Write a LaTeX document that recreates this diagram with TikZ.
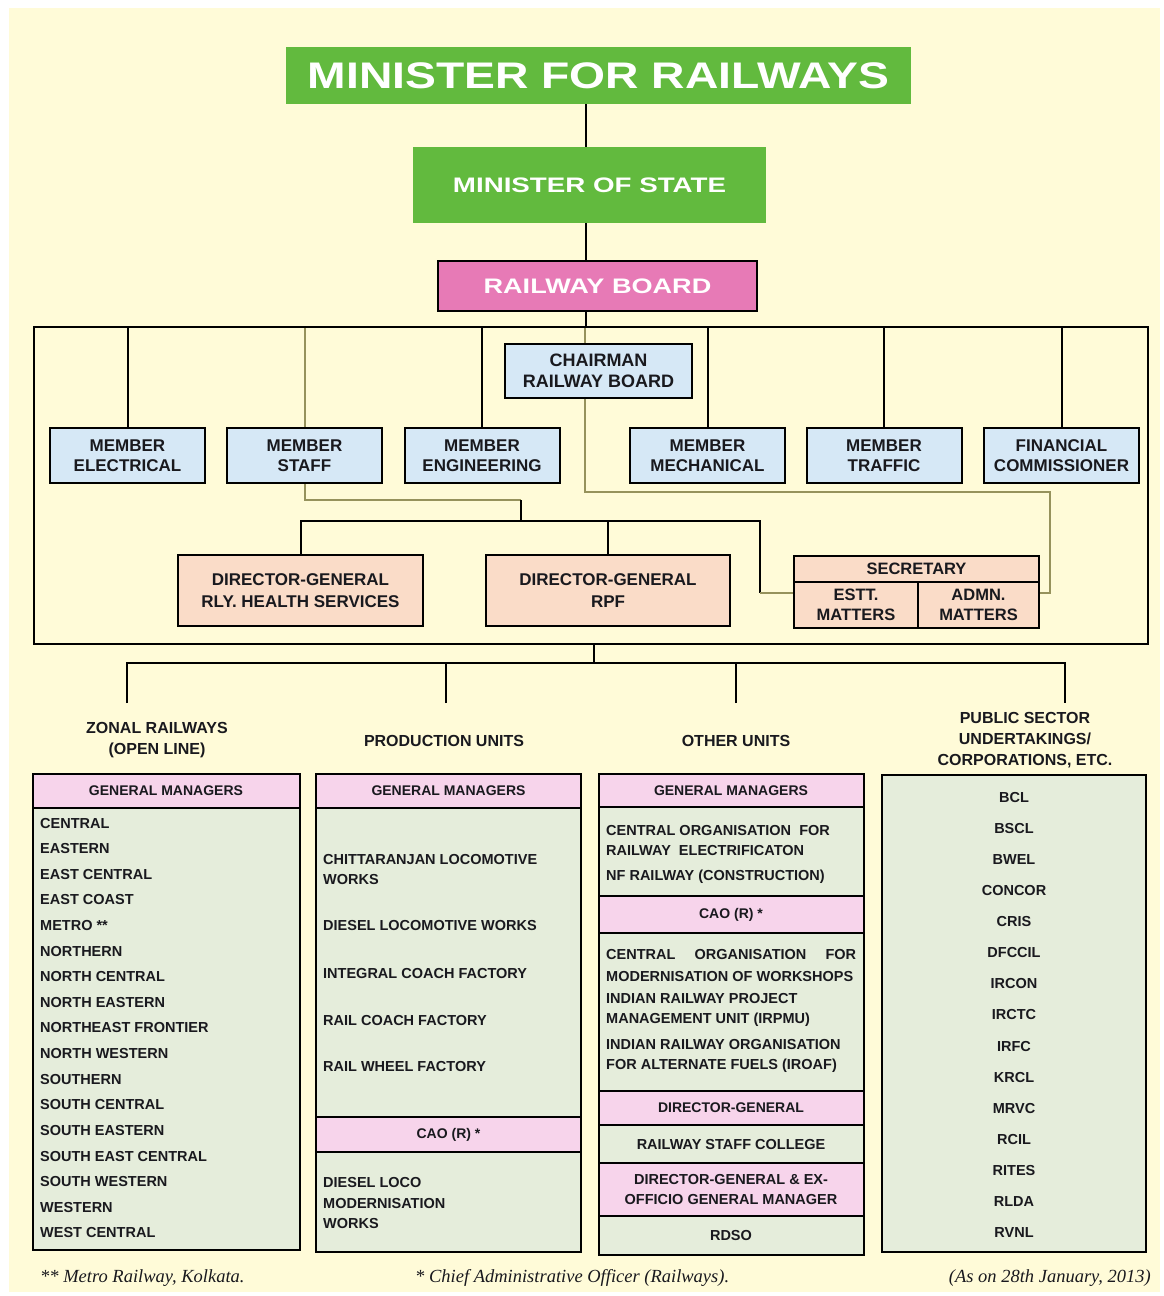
\documentclass[tikz,border=0pt]{standalone}
\usepackage{fontspec}
\usepackage{graphicx}
\setmainfont{Liberation Sans}
\newfontfamily\footfont{Liberation Serif}
\usetikzlibrary{calc}
\pgfdeclarelayer{bg}
\pgfdeclarelayer{lines}
\pgfsetlayers{bg,lines,main}
\definecolor{cream}{RGB}{255,251,216}
\definecolor{mgreen}{RGB}{98,186,62}
\definecolor{rbpink}{RGB}{231,122,182}
\definecolor{lblue}{RGB}{214,232,246}
\definecolor{peach}{RGB}{250,220,200}
\definecolor{hpink}{RGB}{247,212,235}
\definecolor{lgreen}{RGB}{229,237,219}
\definecolor{oliveline}{RGB}{150,146,92}
\definecolor{txt}{RGB}{25,25,30}
\begin{document}
\begin{tikzpicture}[x=1pt,y=-1pt,
  box/.style={draw=black, line width=2pt, inner sep=0pt, align=center, text=txt},
  greenbox/.style={fill=mgreen, inner sep=0pt, text=white, font=\bfseries},
  member/.style={box, fill=lblue, minimum width=155pt, minimum height=55pt, font=\bfseries\fontsize{17}{20}\selectfont},
  dgbox/.style={box, fill=peach, font=\bfseries\fontsize{17}{22}\selectfont},
  hdr/.style={box, fill=hpink, font=\bfseries\fontsize{14}{19}\selectfont},
  lst/.style={box, fill=lgreen},
  item/.style={anchor=west, inner sep=0pt, align=left, text=txt, font=\bfseries\fontsize{14.5}{20}\selectfont},
  citem/.style={anchor=center, inner sep=0pt, align=center, text=txt, font=\bfseries\fontsize{14.5}{19}\selectfont},
  colhead/.style={align=center, inner sep=0pt, text=txt, font=\bfseries\fontsize{16}{21}\selectfont},
  conn/.style={line width=2pt, black},
  oconn/.style={line width=2pt, oliveline},
  foot/.style={inner sep=0pt, text=txt, font=\footfont\itshape\fontsize{18.5}{20}\selectfont}]
\useasboundingbox (0,0) rectangle (1163,1296);
\begin{pgfonlayer}{bg}
\fill[white] (0,0) rectangle (1163,1296);
\fill[cream] (9,8) rectangle (1160,1292);
\end{pgfonlayer}

% top hierarchy
\node[greenbox, minimum width=625pt, minimum height=57pt] (mfr) at (598.5,75.5)
  {\fontsize{37}{40}\selectfont\scalebox{1.25}[1]{MINISTER FOR RAILWAYS}};
\node[greenbox, minimum width=353pt, minimum height=76pt] (mos) at (589.5,185)
  {\fontsize{21}{24}\selectfont\scalebox{1.32}[1]{MINISTER OF STATE}};
\node[box, fill=rbpink, text=white, minimum width=319pt, minimum height=50pt, font=\bfseries] (rb) at (597.5,286)
  {\fontsize{21}{24}\selectfont\scalebox{1.29}[1]{RAILWAY BOARD}};
\coordinate (spine) at (586,0);

% board frame
\node[draw=black, line width=2pt, inner sep=0pt, minimum width=1114pt, minimum height=317pt] (big) at (591,485.5) {};

% members
\node[member] (mel) at (127.5,455.5) {MEMBER\\ELECTRICAL};
\node[member] (mst) at (304.5,455.5) {MEMBER\\STAFF};
\node[member] (men) at (482,455.5) {MEMBER\\ENGINEERING};
\node[member] (mme) at (707.5,455.5) {MEMBER\\MECHANICAL};
\node[member] (mtr) at (884,455.5) {MEMBER\\TRAFFIC};
\node[member] (mfc) at (1061.5,455.5) {FINANCIAL\\COMMISSIONER};
\node[box, fill=lblue, minimum width=187pt, minimum height=54pt, font=\bfseries\fontsize{18}{21}\selectfont] (chair) at (598.5,371) {CHAIRMAN\\RAILWAY BOARD};
\coordinate (chx) at (585,0);

% directors general and secretary
\node[dgbox, minimum width=245pt, minimum height=71pt] (dgh) at (300.5,590.5) {DIRECTOR-GENERAL\\RLY. HEALTH SERVICES};
\node[dgbox, minimum width=244pt, minimum height=71pt] (dgr) at (608,590.5) {DIRECTOR-GENERAL\\RPF};
\node[dgbox, minimum width=245pt, minimum height=27pt, font=\bfseries\fontsize{16.5}{20}\selectfont] (sech) at (916.5,569) {SECRETARY};
\node[dgbox, minimum width=124pt, minimum height=46pt, font=\bfseries\fontsize{16.5}{20}\selectfont] (sece) at (856,605) {ESTT.\\MATTERS};
\node[dgbox, minimum width=121pt, minimum height=46pt, font=\bfseries\fontsize{16.5}{20}\selectfont] (seca) at (978.5,605) {ADMN.\\MATTERS};
\coordinate (sj) at (521,500);
\coordinate (dgj) at (521,521);
\coordinate (dgbr) at (760,521);
\coordinate (secl) at (760,593);
\coordinate (secbend) at (1050,593);

% lower tier headings
\coordinate (bus) at (594,663);
\coordinate (t1) at (127,703);
\coordinate (t2) at (446,703);
\coordinate (t3) at (736,703);
\coordinate (t4) at (1065,703);
\node[colhead] (h1) at (157,740) {ZONAL RAILWAYS\\(OPEN LINE)};
\node[colhead] (h2) at (444,741) {PRODUCTION UNITS};
\node[colhead] (h3) at (736,741) {OTHER UNITS};
\node[colhead] (h4) at (1025,740) {PUBLIC SECTOR\\UNDERTAKINGS/\\CORPORATIONS, ETC.};

\begin{pgfonlayer}{lines}
\draw[conn] (mfr.south -| spine) -- (mos.north -| spine);
\draw[conn] (mos.south -| spine) -- (rb.north -| spine);
\draw[conn] (rb.south -| spine) -- (spine |- big.north);
\foreach \m in {mel,men,mme,mtr,mfc}
  \draw[conn] (\m.north) -- (\m.north |- big.north);
\draw[oconn] (mst.north) -- (mst.north |- big.north);
\draw[oconn] (chx |- big.north) -- ++(0,166) -| (secbend) -- (secbend -| seca.east);
\draw[oconn] (mst.south) -- (mst.south |- sj) -- (sj);
\draw[conn] (sj) -- (dgj);
\draw[conn] (dgh.north) -- (dgh.north |- dgj) -- (dgbr) -- (secl);
\draw[conn] (dgr.north) -- (dgr.north |- dgj);
\draw[oconn] (secl) -- (secl -| sece.west);
\draw[conn] (bus |- big.south) -- (bus);
\draw[conn] (t1) |- (bus) -| (t4);
\draw[conn] (t2) -- (t2 |- bus);
\draw[conn] (t3) -- (t3 |- bus);
\end{pgfonlayer}

% column 1: zonal railways
\node[hdr, minimum width=267pt, minimum height=34pt] (c1h) at (166,791) {GENERAL MANAGERS};
\node[lst, minimum width=267pt, minimum height=442pt] (c1b) at (166,1029) {};
\foreach \t [count=\i] in {CENTRAL,EASTERN,EAST CENTRAL,EAST COAST,METRO **,NORTHERN,NORTH CENTRAL,NORTH EASTERN,NORTHEAST FRONTIER,NORTH WESTERN,SOUTHERN,SOUTH CENTRAL,SOUTH EASTERN,SOUTH EAST CENTRAL,SOUTH WESTERN,WESTERN,WEST CENTRAL}
  \node[item] (z\i) at (40,{823+(\i-1)*25.62}) {\t};

% column 2: production units
\node[hdr, minimum width=265pt, minimum height=34pt] (c2h) at (448.5,791) {GENERAL MANAGERS};
\node[lst, minimum width=265pt, minimum height=309pt] (c2b) at (448.5,962.5) {};
\node[hdr, minimum width=265pt, minimum height=35pt] (c2c) at (448.5,1134.5) {CAO (R) *};
\node[lst, minimum width=265pt, minimum height=100pt] (c2d) at (448.5,1202) {};
\node[item, font=\bfseries\fontsize{14.5}{19.5}\selectfont] (pu1) at (323,869.5) {CHITTARANJAN LOCOMOTIVE\\WORKS};
\node[item] (pu2) at (323,925) {DIESEL LOCOMOTIVE WORKS};
\node[item] (pu3) at (323,973) {INTEGRAL COACH FACTORY};
\node[item] (pu4) at (323,1020) {RAIL COACH FACTORY};
\node[item] (pu5) at (323,1066) {RAIL WHEEL FACTORY};
\node[item, font=\bfseries\fontsize{14.5}{20.5}\selectfont] (pu6) at (323,1203) {DIESEL LOCO\\MODERNISATION\\WORKS};

% column 3: other units
\node[hdr, minimum width=265pt, minimum height=33pt] (c3h) at (731,790.5) {GENERAL MANAGERS};
\node[lst, minimum width=265pt, minimum height=89pt] (c3a) at (731,851.5) {};
\node[hdr, minimum width=265pt, minimum height=37pt] (c3b) at (731,914.5) {CAO (R) *};
\node[lst, minimum width=265pt, minimum height=158pt] (c3c) at (731,1012) {};
\node[hdr, minimum width=265pt, minimum height=34pt] (c3d) at (731,1108) {DIRECTOR-GENERAL};
\node[lst, minimum width=265pt, minimum height=38pt, font=\bfseries\fontsize{14.5}{19}\selectfont] (c3e) at (731,1144) {RAILWAY STAFF COLLEGE};
\node[hdr, minimum width=265pt, minimum height=53pt, font=\bfseries\fontsize{14.5}{19.5}\selectfont] (c3f) at (731,1189.5) {DIRECTOR-GENERAL \& EX-\\OFFICIO GENERAL MANAGER};
\node[lst, minimum width=265pt, minimum height=39pt, font=\bfseries\fontsize{14.5}{19}\selectfont] (c3g) at (731,1235.5) {RDSO};
\node[item] (ou1) at (606,840) {CENTRAL ORGANISATION\ \ FOR\\RAILWAY\ \ ELECTRIFICATON};
\node[item] (ou2) at (606,877) {NF RAILWAY (CONSTRUCTION)};
\node[item, font=\bfseries\fontsize{14.5}{22}\selectfont] (ou3) at (606,965.5)
  {\makebox[250pt][l]{CENTRAL\hfill ORGANISATION\hfill FOR}\\MODERNISATION OF WORKSHOPS};
\node[item] (ou4) at (606,1010) {INDIAN RAILWAY PROJECT\\MANAGEMENT UNIT (IRPMU)};
\node[item] (ou5) at (606,1056) {INDIAN RAILWAY ORGANISATION\\FOR ALTERNATE FUELS (IROAF)};

% column 4: public sector undertakings
\node[lst, minimum width=264pt, minimum height=477pt] (c4) at (1014,1013.5) {};
\foreach \t [count=\i] in {BCL,BSCL,BWEL,CONCOR,CRIS,DFCCIL,IRCON,IRCTC,IRFC,KRCL,MRVC,RCIL,RITES,RLDA,RVNL}
  \node[citem] (ps\i) at (1014,{797+(\i-1)*31.14}) {\t};

% footer
\node[foot, anchor=west] (f1) at (40,1278) {** Metro Railway, Kolkata.};
\node[foot, anchor=west] (f2) at (415,1278) {* Chief Administrative Officer (Railways).};
\node[foot, anchor=east] (f3) at (1151,1278) {(As on 28th January, 2013)};
\end{tikzpicture}
\end{document}
